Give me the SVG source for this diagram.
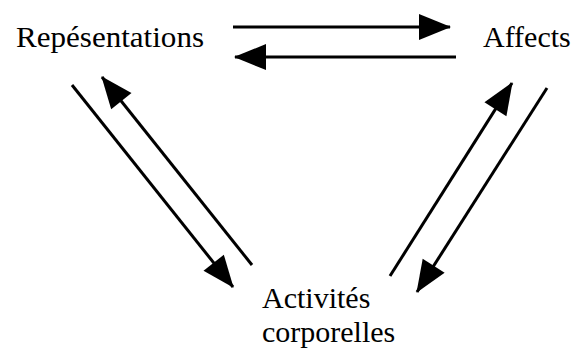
<svg xmlns="http://www.w3.org/2000/svg" width="577" height="350" viewBox="0 0 577 350">
<style>
.lbl{font-family:"Liberation Serif","Times New Roman",serif;font-size:30px;fill:#000}
.cn{stroke:#000;stroke-width:3;fill:none;marker-end:url(#ah)}
</style>
<defs>
<marker id="ah" markerUnits="userSpaceOnUse" markerWidth="33" markerHeight="27" refX="31" refY="13" orient="auto" overflow="visible">
<path d="M0,0 L32,13 L0,26 Z" fill="#000"/>
</marker>
</defs>
<rect width="577" height="350" fill="#fff"/>
<g id="connectors">
<path class="cn" d="M233,27 L450,27"/>
<path class="cn" d="M456,57 L235,57"/>
<path class="cn" d="M72,85 L233,287"/>
<path class="cn" d="M252,265 L102,77"/>
<path class="cn" d="M390,276 L512,83"/>
<path class="cn" d="M547,88 L417,292"/>
</g>
<g id="representations"><text class="lbl" x="16" y="47" textLength="188" lengthAdjust="spacingAndGlyphs">Repésentations</text></g>
<g id="affects"><text class="lbl" x="483" y="47">Affects</text></g>
<g id="activites"><text class="lbl" x="262" y="308">Activités</text><text class="lbl" x="262" y="342">corporelles</text></g>
</svg>
